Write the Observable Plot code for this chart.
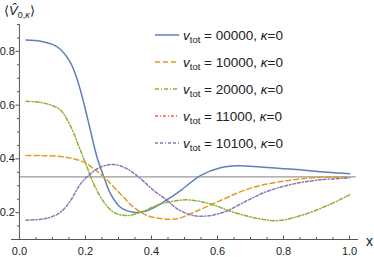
<!DOCTYPE html>
<html>
<head>
<meta charset="utf-8">
<script src="https://cdn.jsdelivr.net/npm/d3@7"></script>
<script src="https://cdn.jsdelivr.net/npm/@observablehq/plot@0.6"></script>
<style>
  html, body { margin: 0; padding: 0; background: #fff; }
  #chart { width: 374px; height: 257px; }
</style>
</head>
<body>
<div id="chart"></div>
<script>
// ---- data ----
const labels = ["00000", "10000", "20000", "11000", "10100"];
const colors = ["#5E81B5", "#E19C24", "#8FB032", "#EB6235", "#8778B3"];
const dashes = [null, "5,3", "4,2,1,2", "3,2,1,2", "3,2,3,2,1,2"];

const x00000 = [0.02,0.064,0.10,0.124,0.155,0.175,0.195,0.215,0.235,0.256,0.276,0.306,0.346,0.387,0.427,0.458,0.488,0.548,0.609,0.659,0.73,0.831,0.932,1.0];
const v00000 = [0.842,0.838,0.826,0.808,0.757,0.695,0.608,0.506,0.406,0.332,0.270,0.220,0.201,0.207,0.232,0.257,0.282,0.338,0.367,0.374,0.370,0.361,0.350,0.345];

const x10000 = [0.02,0.064,0.124,0.165,0.195,0.225,0.256,0.286,0.316,0.346,0.387,0.427,0.458,0.488,0.548,0.609,0.670,0.730,0.811,0.892,1.0];
const v10000 = [0.413,0.412,0.409,0.400,0.388,0.363,0.332,0.295,0.257,0.220,0.189,0.178,0.175,0.181,0.212,0.245,0.278,0.301,0.319,0.330,0.333];

const x20000 = [0.02,0.064,0.10,0.124,0.145,0.165,0.185,0.205,0.225,0.256,0.286,0.326,0.367,0.427,0.478,0.518,0.579,0.649,0.720,0.781,0.852,0.932,1.0];
const v20000 = [0.614,0.610,0.598,0.582,0.545,0.494,0.431,0.369,0.307,0.239,0.201,0.189,0.201,0.232,0.245,0.247,0.232,0.201,0.179,0.170,0.189,0.226,0.266];

// 11000 curve is not visible in the reference (legend entry only)
const x11000 = [];
const v11000 = [];

const x10100 = [0.02,0.064,0.094,0.124,0.155,0.185,0.215,0.245,0.286,0.326,0.367,0.407,0.448,0.478,0.528,0.579,0.629,0.690,0.750,0.831,0.912,1.0];
const v10100 = [0.172,0.175,0.183,0.201,0.245,0.307,0.344,0.369,0.379,0.363,0.326,0.282,0.245,0.214,0.189,0.189,0.207,0.245,0.279,0.307,0.322,0.329];

const refLevel = 1/3;
const xMajor = [0.2, 0.4, 0.6, 0.8, 1.0];
const xMinor = [0.05,0.1,0.15,0.25,0.3,0.35,0.45,0.5,0.55,0.65,0.7,0.75,0.85,0.9,0.95];
const xLabels = [0.0, 0.2, 0.4, 0.6, 0.8, 1.0];
const yMajor = [0.2, 0.4, 0.6, 0.8];
const yMinor = [0.15,0.25,0.3,0.35,0.45,0.5,0.55,0.65,0.7,0.75,0.85,0.9];

// ---- build ----
const xsAll = [x00000, x10000, x20000, x11000, x10100];
const vsAll = [v00000, v10000, v20000, v11000, v10100];
const series = labels.map((lab, i) => xsAll[i].map((x, j) => ({x, y: vsAll[i][j]})));

const font = "'Liberation Sans', Arial, sans-serif";
const axisColor = "#555";

const lineMarks = series.map((rows, i) => Plot.line(rows, {
  x: "x", y: "y", stroke: colors[i], strokeWidth: 1.5,
  strokeDasharray: dashes[i], curve: "catmull-rom"
}));

const plot = Plot.plot({
  width: 374, height: 257,
  marginLeft: 11, marginRight: 16, marginTop: 24, marginBottom: 18,
  x: {domain: [-0.024, 1.027], axis: null},
  y: {domain: [0.1, 0.9], axis: null},
  style: {fontFamily: font, fontSize: "11px", background: "white", color: "#222", overflow: "visible"},
  marks: [
    Plot.ruleY([refLevel], {x1: 0, x2: 1.02, stroke: "#999", strokeWidth: 1.2}),
    ...lineMarks,
    // axes
    Plot.ruleY([0.1], {stroke: axisColor, strokeWidth: 1}),
    Plot.ruleX([0], {stroke: axisColor, strokeWidth: 1}),
    Plot.ruleX(xMajor, {y1: 0.1, y2: 0.1, insetTop: -3.5, stroke: axisColor}),
    Plot.ruleX(xMinor, {y1: 0.1, y2: 0.1, insetTop: -2, stroke: axisColor}),
    Plot.ruleY(yMajor, {x1: 0, x2: 0, insetLeft: -3.5, stroke: axisColor}),
    Plot.ruleY(yMinor, {x1: 0, x2: 0, insetLeft: -2, stroke: axisColor}),
    Plot.text(xLabels, {x: d => d, y: 0.1, dy: 12, text: d => d.toFixed(1), fill: "#222", fontSize: 11}),
    Plot.text(yMajor, {x: 0, y: d => d, dx: -4.5, textAnchor: "end", text: d => d.toFixed(1), fill: "#222", fontSize: 11})
  ]
});

document.getElementById("chart").appendChild(plot);

// ---- annotations: axis labels and legend ----
const svg = d3.select(plot);

// y label  <V̂_{0,κ}>
const yl = svg.append("text").attr("x", 4).attr("y", 15).attr("text-anchor", "start")
  .attr("font-family", font).attr("font-size", 13).attr("fill", "#222");
yl.append("tspan").text("\u27E8");
yl.append("tspan").attr("font-style", "italic").text("V\u0302");
yl.append("tspan").attr("font-size", 9).attr("dy", 3).text("0,");
yl.append("tspan").attr("font-size", 9).attr("font-style", "italic").text("\u03BA");
yl.append("tspan").attr("dy", -3).text("\u27E9");

// x label
svg.append("text").attr("x", 366).attr("y", 246).attr("text-anchor", "start")
  .attr("font-family", font).attr("font-size", 14).attr("fill", "#222").text("x");

// legend
const legX1 = 155, legX2 = 179, legTextX = 183, legY0 = 35, legDy = 27;
labels.forEach((lab, i) => {
  const yy = legY0 + i * legDy;
  svg.append("line").attr("x1", legX1).attr("x2", legX2).attr("y1", yy).attr("y2", yy)
    .attr("stroke", colors[i]).attr("stroke-width", 1.5)
    .attr("stroke-dasharray", dashes[i]);
  const t = svg.append("text").attr("x", legTextX).attr("y", yy + 5).attr("text-anchor", "start")
    .attr("font-family", font).attr("font-size", 13.5).attr("fill", "#222");
  t.append("tspan").attr("font-style", "italic").text("v");
  t.append("tspan").attr("font-size", 9.5).attr("dy", 3).text("tot");
  t.append("tspan").attr("dy", -3).text(" = " + lab + ", ");
  t.append("tspan").attr("font-style", "italic").text("\u03BA");
  t.append("tspan").text("=0");
});
</script>
</body>
</html>
